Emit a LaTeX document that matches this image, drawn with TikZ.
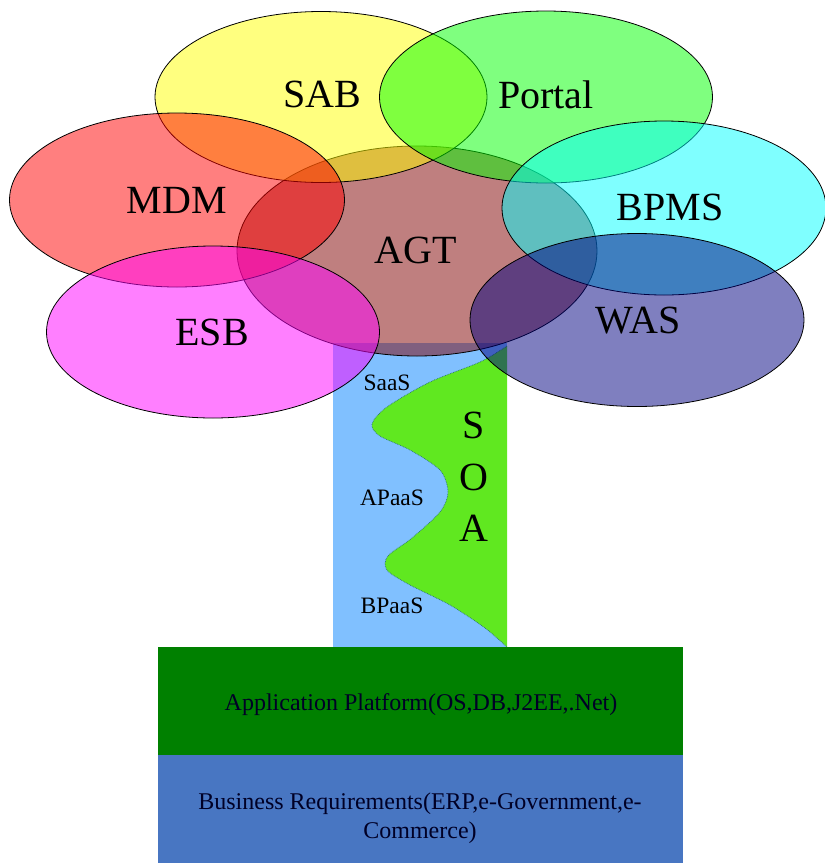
\documentclass[tikz,border=0pt]{standalone}
\usepackage{fontspec}
\setmainfont{Liberation Serif}
\usetikzlibrary{shapes.geometric}
\definecolor{colblue}{RGB}{128,192,255}
\definecolor{colgreen}{RGB}{96,232,32}
\definecolor{appgreen}{RGB}{0,128,0}
\definecolor{bizblue}{RGB}{72,118,194}
\definecolor{agtcol}{RGB}{128,0,0}
\definecolor{sabcol}{RGB}{255,255,0}
\definecolor{portalcol}{RGB}{0,255,0}
\definecolor{mdmcol}{RGB}{255,0,0}
\definecolor{bpmscol}{RGB}{0,255,255}
\definecolor{esbcol}{RGB}{255,0,255}
\definecolor{wascol}{RGB}{0,0,128}
\definecolor{wavecol}{RGB}{40,110,120}
\begin{document}
\begin{tikzpicture}[x=1pt,y=-1pt,
  blob/.style={ellipse, draw=black, line width=0.8pt, fill opacity=0.5, inner sep=0},
  biglabel/.style={font=\fontsize{40}{48}\selectfont, anchor=base, inner sep=0},
  smalllabel/.style={font=\fontsize{23.5}{28}\selectfont, anchor=base, inner sep=0},
  barlabel/.style={font=\fontsize{24}{29}\selectfont, inner sep=0, align=center, text=black!85!blue},
  barbox/.style={anchor=north west, inner sep=0, minimum width=525, minimum height=108}]
\useasboundingbox (0,0) rectangle (825,863);
% SOA column
\fill[colblue] (333,343) rectangle (507,647);
\fill[colgreen] plot[smooth] coordinates {(507,346) (480,362) (430,382) (387,407) (372,424) (380,436) (410,450) (440,470) (448,492) (440,512) (412,538) (388,556) (387,570) (410,585) (450,605) (485,628) (507,647)} -- cycle;
\draw[wavecol, densely dotted, line width=0.7pt] plot[smooth] coordinates {(507,346) (480,362) (430,382) (387,407) (372,424) (380,436) (410,450) (440,470) (448,492) (440,512) (412,538) (388,556) (387,570) (410,585) (450,605) (485,628) (507,647)};
% ellipses
\node[blob, fill=agtcol, minimum width=360, minimum height=210] (agt) at (417,251) {};
\node[blob, fill=sabcol, minimum width=332, minimum height=171] (sab) at (321,97) {};
\node[blob, fill=portalcol, minimum width=333, minimum height=172] (portal) at (546,97) {};
\node[blob, fill=mdmcol, minimum width=335, minimum height=174] (mdm) at (177,200) {};
\node[blob, fill=bpmscol, minimum width=324, minimum height=174] (bpms) at (664,208) {};
\node[blob, fill=esbcol, minimum width=333, minimum height=172] (esb) at (213,332) {};
\node[blob, fill=wascol, minimum width=334, minimum height=173] (was) at (637,320) {};
% labels
\node[biglabel] (tsab) at (322,107) {SAB};
\node[biglabel] (tportal) at (546,108) {Portal};
\node[biglabel] (tmdm) at (177,213) {MDM};
\node[biglabel] (tbpms) at (670,220) {BPMS};
\node[biglabel] (tagt) at (416,263) {AGT};
\node[biglabel] (tesb) at (212,345) {ESB};
\node[biglabel] (twas) at (638,333) {WAS};
\node[smalllabel] (saas) at (387,390) {SaaS};
\node[smalllabel] (apaas) at (392,505) {APaaS};
\node[smalllabel] (bpaas) at (392,613) {BPaaS};
\node[biglabel] (soas) at (474,438) {S};
\node[biglabel] (soao) at (474,490) {O};
\node[biglabel] (soaa) at (474,541) {A};
% bottom bars
\node[barbox, fill=appgreen] (app) at (158,647) {};
\node[barbox, fill=bizblue] (biz) at (158,755) {};
\node[barlabel, anchor=base] (tapp) at (421,710) {Application Platform(OS,DB,J2EE,.Net)};
\node[barlabel] (tbiz) at (420,818) {Business Requirements(ERP,e-Government,e-\\Commerce)};
\end{tikzpicture}
\end{document}
